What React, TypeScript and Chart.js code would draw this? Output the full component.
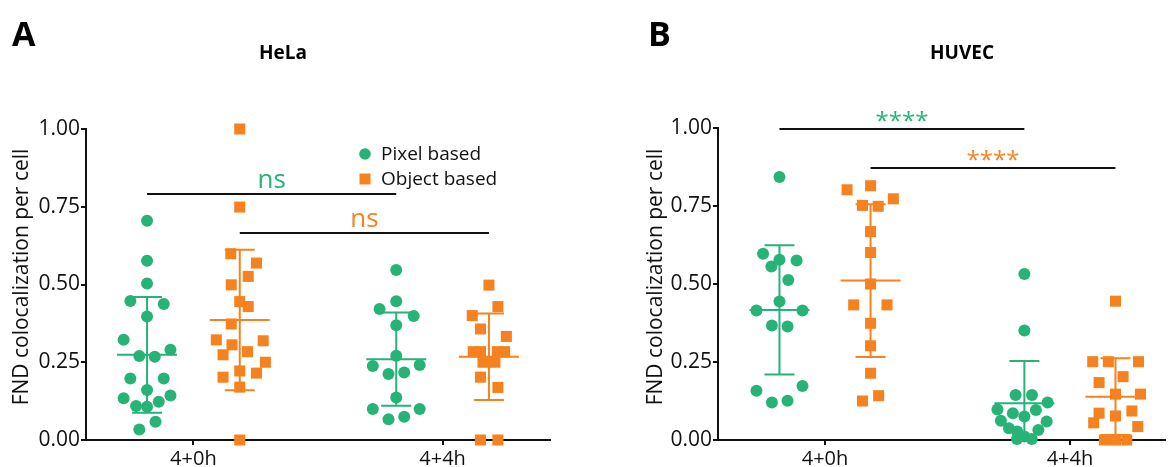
import React, { useEffect, useRef } from 'react';
import { Chart, registerables } from 'chart.js';
Chart.register(...registerables);

const GREEN = '#27b376';
const ORANGE = '#f5821f';
const seriesColors = [GREEN, ORANGE];
const seriesNames = ['Pixel based', 'Object based'];
const groups = ['4+0h', '4+4h'];
const yTickValues = [0, 0.25, 0.5, 0.75, 1.0];
const seriesShift = [-0.186, 0.186];
const yTitle = 'FND colocalization per cell';

// ---------- HeLa (panel A) ----------
const helaPixel0h = [0.705, 0.576, 0.503, 0.447, 0.437, 0.397, 0.322, 0.290, 0.270, 0.268, 0.198, 0.198, 0.161, 0.134, 0.143, 0.109, 0.107, 0.123, 0.059, 0.034];
const helaPixel0hJitter = [0, 0, 0, -0.067, 0.067, 0, -0.094, 0.094, -0.031, 0.031, -0.067, 0.067, 0, -0.094, 0.094, -0.044, 0, 0.047, 0.034, -0.031];
const helaPixel4h = [0.547, 0.446, 0.421, 0.399, 0.369, 0.271, 0.238, 0.241, 0.212, 0.217, 0.137, 0.100, 0.100, 0.067, 0.075];
const helaPixel4hJitter = [0, 0, -0.067, 0.070, 0, 0, -0.094, 0.094, -0.031, 0.032, 0, -0.094, 0.094, -0.031, 0.032];
const helaObject0h = [1.0, 0.749, 0.599, 0.569, 0.526, 0.499, 0.445, 0.429, 0.373, 0.322, 0.306, 0.319, 0.284, 0.274, 0.250, 0.222, 0.215, 0.202, 0.170, 0.0];
const helaObject0hJitter = [0, 0, -0.036, 0.067, 0.034, -0.034, 0, 0.034, -0.034, -0.094, -0.031, 0.094, 0.031, -0.067, 0.103, 0, 0.067, -0.067, 0, 0];
const helaObject4h = [0.498, 0.429, 0.400, 0.357, 0.333, 0.284, 0.284, 0.284, 0.284, 0.250, 0.250, 0.202, 0.169, 0.0, 0.0];
const helaObject4hJitter = [0, 0.036, -0.067, -0.034, 0.070, -0.063, -0.034, 0.034, 0.063, -0.024, 0.024, -0.034, 0.036, -0.034, 0.036];
const helaPixelMean = [0.274, 0.260];
const helaPixelSD = [0.186, 0.150];
const helaObjectMean = [0.386, 0.268];
const helaObjectSD = [0.226, 0.139];
const helaSigY = [0.791, 0.667];
const helaSigLabel = ['ns', 'ns'];

// ---------- HUVEC (panel B) ----------
const huvecPixel0h = [0.843, 0.597, 0.578, 0.575, 0.556, 0.513, 0.444, 0.415, 0.415, 0.367, 0.364, 0.158, 0.173, 0.120, 0.126];
const huvecPixel0hJitter = [0, -0.067, 0, 0.070, -0.033, 0.036, 0, -0.094, 0.094, -0.031, 0.033, -0.094, 0.094, -0.031, 0.033];
const huvecPixel4h = [0.532, 0.351, 0.144, 0.144, 0.120, 0.098, 0.086, 0.096, 0.075, 0.062, 0.059, 0.038, 0.027, 0.032, 0.011, 0.003, 0.003];
const huvecPixel4hJitter = [0, 0, -0.036, 0.031, 0.095, -0.110, -0.047, 0.047, 0, -0.096, 0.091, -0.063, -0.029, 0.057, 0, -0.030, 0.030];
const huvecObject0h = [0.802, 0.815, 0.773, 0.752, 0.749, 0.668, 0.601, 0.500, 0.433, 0.433, 0.374, 0.302, 0.214, 0.125, 0.142];
const huvecObject0hJitter = [-0.096, 0, 0.093, -0.033, 0.031, 0, 0, 0, -0.069, 0.067, 0, 0, 0, -0.033, 0.033];
const huvecObject4h = [0.445, 0.251, 0.251, 0.251, 0.203, 0.184, 0.147, 0.147, 0.086, 0.093, 0.077, 0.055, 0.043, 0.0, 0.0, 0.0];
const huvecObject4hJitter = [0, -0.093, -0.029, 0.094, 0.031, -0.067, 0, 0.102, -0.067, 0.067, 0, -0.089, 0.091, -0.045, 0, 0.046];
const huvecPixelMean = [0.417, 0.118];
const huvecPixelSD = [0.207, 0.135];
const huvecObjectMean = [0.511, 0.139];
const huvecObjectSD = [0.245, 0.123];
const huvecSigY = [0.998, 0.872];
const huvecSigLabel = ['****', '****'];

type PanelSpec = {
  letter: string;
  title: string;
  values: number[][][];
  jitter: number[][][];
  means: number[][];
  sds: number[][];
  sigY: number[];
  sigLabel: string[];
  sigFont: string;
  sigGap: number;
  xMin: number;
  xMax: number;
  axisLeft: number;
  padTop: number;
  padRight: number;
  legend: boolean;
  letterX: number;
  titleX: number;
  yTitleX: number;
  canvasWidth: number;
};

const FONT = "'Open Sans', 'DejaVu Sans', sans-serif";

function makePlugin(spec: PanelSpec) {
  return {
    id: 'panelExtras' + spec.letter,
    afterDatasetsDraw(chart: any) {
      const { ctx } = chart;
      const xs = chart.scales.x;
      const ys = chart.scales.y;
      ctx.save();
      ctx.lineWidth = 2;
      // error bars: mean ± SD
      for (let s = 0; s < 2; s++) {
        for (let g = 0; g < groups.length; g++) {
          const cx = xs.getPixelForValue(g + 1 + seriesShift[s]);
          const m = spec.means[s][g];
          const sd = spec.sds[s][g];
          const yM = ys.getPixelForValue(m);
          const yHi = ys.getPixelForValue(m + sd);
          const lo = m - sd;
          const yLo = ys.getPixelForValue(Math.max(lo, 0));
          ctx.strokeStyle = seriesColors[s];
          ctx.beginPath();
          ctx.moveTo(cx - 30, yM);
          ctx.lineTo(cx + 30, yM);
          ctx.moveTo(cx, yHi);
          ctx.lineTo(cx, yLo);
          ctx.moveTo(cx - 15, yHi);
          ctx.lineTo(cx + 15, yHi);
          if (lo > 0) {
            ctx.moveTo(cx - 15, yLo);
            ctx.lineTo(cx + 15, yLo);
          }
          ctx.stroke();
        }
      }
      ctx.restore();
    },
    afterDraw(chart: any) {
      const { ctx } = chart;
      const xs = chart.scales.x;
      const ys = chart.scales.y;
      ctx.save();
      // significance bars
      for (let s = 0; s < 2; s++) {
        const x1 = xs.getPixelForValue(1 + seriesShift[s]);
        const x2 = xs.getPixelForValue(2 + seriesShift[s]);
        const y = Math.round(ys.getPixelForValue(spec.sigY[s]));
        ctx.strokeStyle = '#111';
        ctx.lineWidth = 2;
        ctx.beginPath();
        ctx.moveTo(x1, y);
        ctx.lineTo(x2, y);
        ctx.stroke();
        ctx.fillStyle = seriesColors[s];
        ctx.font = spec.sigFont;
        ctx.textAlign = 'center';
        ctx.textBaseline = 'alphabetic';
        ctx.fillText(spec.sigLabel[s], (x1 + x2) / 2, y - spec.sigGap);
      }
      // legend
      if (spec.legend) {
        const lx = 365;
        const ly = [154, 179];
        ctx.font = `19px ${FONT}`;
        ctx.textAlign = 'left';
        ctx.textBaseline = 'middle';
        for (let s = 0; s < 2; s++) {
          ctx.fillStyle = seriesColors[s];
          if (s === 0) {
            ctx.beginPath();
            ctx.arc(lx, ly[s], 5.8, 0, Math.PI * 2);
            ctx.fill();
          } else {
            ctx.fillRect(lx - 5.5, ly[s] - 5.5, 11, 11);
          }
          ctx.fillStyle = '#111';
          ctx.fillText(seriesNames[s], lx + 16, ly[s] + 1);
        }
      }
      // panel letter and title
      ctx.fillStyle = '#000';
      ctx.textAlign = 'left';
      ctx.textBaseline = 'alphabetic';
      ctx.font = `bold 34px ${FONT}`;
      ctx.fillText(spec.letter, spec.letterX, 46);
      ctx.textAlign = 'center';
      ctx.font = `bold 19px ${FONT}`;
      ctx.fillText(spec.title, spec.titleX, 59);
      // y axis title
      ctx.save();
      ctx.translate(spec.yTitleX, 277);
      ctx.rotate(-Math.PI / 2);
      ctx.font = `21px ${FONT}`;
      ctx.textAlign = 'center';
      ctx.textBaseline = 'middle';
      ctx.fillStyle = '#111';
      ctx.fillText(yTitle, 0, 0);
      ctx.restore();
      ctx.restore();
    },
  };
}

function buildChart(canvas: HTMLCanvasElement, spec: PanelSpec) {
  const datasets = seriesNames.map((name, s) => ({
    label: name,
    data: groups.flatMap((_, g) =>
      spec.values[s][g].map((v, i) => ({ x: g + 1 + seriesShift[s] + spec.jitter[s][g][i], y: v }))
    ),
    pointStyle: s === 0 ? 'circle' : 'rect',
    pointRadius: s === 0 ? 6 : 7.8,
    backgroundColor: seriesColors[s],
    borderWidth: 0,
    showLine: false,
    clip: false as any,
  }));
  return new Chart(canvas, {
    type: 'scatter',
    data: { datasets },
    options: {
      animation: false,
      responsive: false,
      events: [],
      layout: { padding: { top: spec.padTop, right: spec.padRight, left: 0, bottom: 0 } },
      plugins: { legend: { display: false }, tooltip: { enabled: false }, title: { display: false } },
      scales: {
        x: {
          type: 'linear',
          min: spec.xMin,
          max: spec.xMax,
          afterBuildTicks: (scale: any) => {
            scale.ticks = groups.map((_, i) => ({ value: i + 1 }));
          },
          afterFit: (scale: any) => {
            scale.height = 27;
          },
          ticks: {
            callback: (v: any) => groups[Number(v) - 1] ?? '',
            color: '#111',
            font: { family: FONT, size: 20 },
            padding: 2,
            maxRotation: 0,
            autoSkip: false,
          },
          grid: { drawOnChartArea: false, color: '#111', lineWidth: 2, tickLength: 5 },
          border: { display: true, color: '#111', width: 2 },
        },
        y: {
          type: 'linear',
          min: 0,
          max: 1,
          afterBuildTicks: (scale: any) => {
            scale.ticks = yTickValues.map((v) => ({ value: v }));
          },
          afterFit: (scale: any) => {
            scale.width = spec.axisLeft;
          },
          ticks: {
            callback: (v: any) => Number(v).toFixed(2),
            color: '#111',
            font: { family: FONT, size: 21 },
            padding: 1,
          },
          grid: { drawOnChartArea: false, color: '#111', lineWidth: 2, tickLength: 5 },
          border: { display: true, color: '#111', width: 2 },
        },
      },
    },
    plugins: [makePlugin(spec)],
  } as any);
}

const specA: PanelSpec = {
  letter: 'A',
  title: 'HeLa',
  values: [[helaPixel0h, helaPixel4h], [helaObject0h, helaObject4h]],
  jitter: [[helaPixel0hJitter, helaPixel4hJitter], [helaObject0hJitter, helaObject4hJitter]],
  means: [helaPixelMean, helaObjectMean],
  sds: [helaPixelSD, helaObjectSD],
  sigY: helaSigY,
  sigLabel: helaSigLabel,
  sigFont: `26px ${FONT}`,
  sigGap: 6,
  xMin: 0.569,
  xMax: 2.431,
  axisLeft: 86,
  padTop: 129,
  padRight: 30,
  legend: true,
  letterX: 12,
  titleX: 283,
  yTitleX: 22,
  canvasWidth: 580,
};

const specB: PanelSpec = {
  letter: 'B',
  title: 'HUVEC',
  values: [[huvecPixel0h, huvecPixel4h], [huvecObject0h, huvecObject4h]],
  jitter: [[huvecPixel0hJitter, huvecPixel4hJitter], [huvecObject0hJitter, huvecObject4hJitter]],
  means: [huvecPixelMean, huvecObjectMean],
  sds: [huvecPixelSD, huvecObjectSD],
  sigY: huvecSigY,
  sigLabel: huvecSigLabel,
  sigFont: `24px ${FONT}`,
  sigGap: 0,
  xMin: 0.563,
  xMax: 2.389,
  axisLeft: 128,
  padTop: 128,
  padRight: 0,
  legend: false,
  letterX: 58,
  titleX: 372,
  yTitleX: 66,
  canvasWidth: 583,
};

function Panel({ spec, left }: { spec: PanelSpec; left: number }) {
  const ref = useRef<HTMLCanvasElement | null>(null);
  useEffect(() => {
    if (!ref.current) return;
    const chart = buildChart(ref.current, spec);
    return () => chart.destroy();
  }, [spec]);
  return (
    <canvas
      ref={ref}
      width={spec.canvasWidth}
      height={467}
      style={{ position: 'absolute', left, top: 0, width: spec.canvasWidth, height: 467 }}
    />
  );
}

export default function App() {
  return (
    <div style={{ position: 'fixed', left: 0, top: 0, width: 1173, height: 467, background: '#fff', overflow: 'hidden' }}>
      <Panel spec={specA} left={0} />
      <Panel spec={specB} left={590} />
    </div>
  );
}
